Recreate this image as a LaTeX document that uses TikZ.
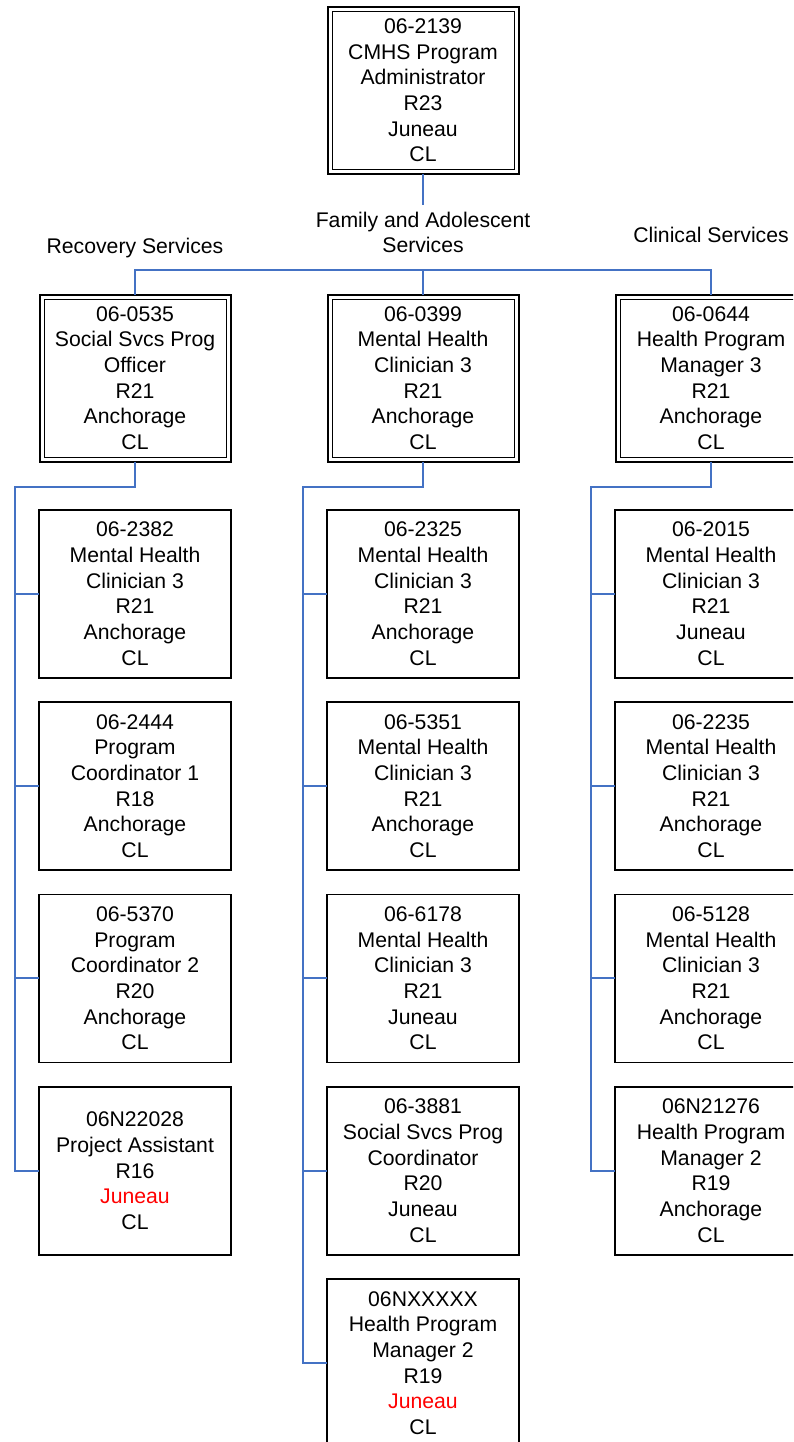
\documentclass[tikz,border=0pt]{standalone}
\usepackage{fontspec}
\setmainfont{Liberation Sans}
\definecolor{cblue}{RGB}{68,114,196}
\begin{document}
\begin{tikzpicture}[x=1pt, y=-1pt, font=\fontsize{21.2pt}{25.7pt}\selectfont,
    box/.style={draw, line width=1.7pt, minimum width=192pt, minimum height=168pt, inner sep=0pt, outer sep=0pt, align=center},
    mgr/.style={box, line width=2pt, minimum width=191pt, minimum height=167pt,
      path picture={\draw[line width=1pt] ([shift={(4.5pt,-4.5pt)}]path picture bounding box.north west) rectangle ([shift={(-4.5pt,4.5pt)}]path picture bounding box.south east);}},
    conn/.style={draw=cblue, line width=1.9pt},
    lbl/.style={inner sep=0pt, align=center}]
    \clip (0,0) rectangle (793,1442);
    \node[mgr] (p2139) at (423,90.3) {06-2139\\CMHS Program\\Administrator\\R23\\Juneau\\CL};
    \node[lbl, outer ysep=7pt] (famlbl) at (423,232.5) {Family and Adolescent\\Services};
    \node[lbl, anchor=base] (rcvlbl) at (135,253.3) {Recovery Services};
    \node[lbl, anchor=base] (clnlbl) at (711,242.7) {Clinical Services};
    \node[mgr] (p0535) at (135,378) {06-0535\\Social Svcs Prog\\Officer\\R21\\Anchorage\\CL};
    \node[mgr] (p0399) at (423,378) {06-0399\\Mental Health\\Clinician 3\\R21\\Anchorage\\CL};
    \node[mgr] (p0644) at (711,378) {06-0644\\Health Program\\Manager 3\\R21\\Anchorage\\CL};
    \node[box] (p2382) at (135,593.8) {06-2382\\Mental Health\\Clinician 3\\R21\\Anchorage\\CL};
    \node[box] (p2444) at (135,786.1) {06-2444\\Program\\Coordinator 1\\R18\\Anchorage\\CL};
    \node[box] (p5370) at (135,978.4) {06-5370\\Program\\Coordinator 2\\R20\\Anchorage\\CL};
    \node[box] (pN22028) at (135,1170.7) {06N22028\\Project Assistant\\R16\\\textcolor{red}{Juneau}\\CL};
    \node[box] (p2325) at (423,593.8) {06-2325\\Mental Health\\Clinician 3\\R21\\Anchorage\\CL};
    \node[box] (p5351) at (423,786.1) {06-5351\\Mental Health\\Clinician 3\\R21\\Anchorage\\CL};
    \node[box] (p6178) at (423,978.4) {06-6178\\Mental Health\\Clinician 3\\R21\\Juneau\\CL};
    \node[box] (p3881) at (423,1170.7) {06-3881\\Social Svcs Prog\\Coordinator\\R20\\Juneau\\CL};
    \node[box] (pNXXXXX) at (423,1363) {06NXXXXX\\Health Program\\Manager 2\\R19\\\textcolor{red}{Juneau}\\CL};
    \node[box] (p2015) at (711,593.8) {06-2015\\Mental Health\\Clinician 3\\R21\\Juneau\\CL};
    \node[box] (p2235) at (711,786.1) {06-2235\\Mental Health\\Clinician 3\\R21\\Anchorage\\CL};
    \node[box] (p5128) at (711,978.4) {06-5128\\Mental Health\\Clinician 3\\R21\\Anchorage\\CL};
    \node[box] (pN21276) at (711,1170.7) {06N21276\\Health Program\\Manager 2\\R19\\Anchorage\\CL};
    \coordinate (bus) at (423,270);
    \coordinate (rcvbus) at (15,486.7);
    \coordinate (fambus) at (303,486.7);
    \coordinate (clnbus) at (591,486.7);
    \draw[conn] (p2139.south) to (famlbl.north);
    \draw[conn] (p0535.north) |- (bus) -| (p0644.north);
    \draw[conn] (bus) to (p0399.north);
    \draw[conn] (p0535.south) |- (rcvbus) |- (pN22028.west);
    \draw[conn] (rcvbus) |- (p2382.west);
    \draw[conn] (rcvbus) |- (p2444.west);
    \draw[conn] (rcvbus) |- (p5370.west);
    \draw[conn] (p0399.south) |- (fambus) |- (pNXXXXX.west);
    \draw[conn] (fambus) |- (p2325.west);
    \draw[conn] (fambus) |- (p5351.west);
    \draw[conn] (fambus) |- (p6178.west);
    \draw[conn] (fambus) |- (p3881.west);
    \draw[conn] (p0644.south) |- (clnbus) |- (pN21276.west);
    \draw[conn] (clnbus) |- (p2015.west);
    \draw[conn] (clnbus) |- (p2235.west);
    \draw[conn] (clnbus) |- (p5128.west);
  \end{tikzpicture}
\end{document}
